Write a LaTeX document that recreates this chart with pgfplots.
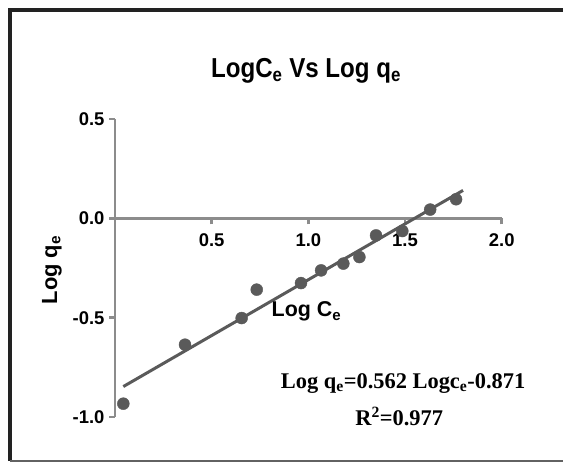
\documentclass[border=0pt]{standalone}
\usepackage{pgfplots}
\pgfplotsset{compat=1.18}
\usepackage{fontspec}
\setmainfont{Liberation Sans}
\newfontfamily\narrowfont[FakeStretch=0.88]{Liberation Sans}
\newfontfamily\serifeq{Liberation Serif}
\definecolor{axisgray}{HTML}{8C8C8C}
\definecolor{pointgray}{HTML}{5A5A5A}
\definecolor{framegray}{HTML}{222222}

% Freundlich isotherm: log Ce vs log qe
\pgfplotstableread{
x      y
0.043  -0.933
0.362  -0.636
0.655  -0.502
0.733  -0.359
0.962  -0.326
1.066  -0.262
1.181  -0.228
1.264  -0.195
1.350  -0.086
1.486  -0.064
1.630   0.044
1.764   0.096
}\isodata

\begin{document}
\begin{tikzpicture}[x=1bp,y=1bp]
\useasboundingbox (0,0) rectangle (563,462);
% outer frame
\draw[framegray, line width=3.5bp] (10,1) -- (10,452) -- (563,452);
\draw[axisgray!70!black, line width=1.5bp] (10,1) -- (563,1);

\begin{axis}[
  at={(115bp,45bp)}, anchor=south west,
  scale only axis, width=386.7bp, height=298bp,
  xmin=0, xmax=2, ymin=-1, ymax=0.5,
  axis lines=middle,
  axis line style={-, axisgray, line width=2.5bp},
  every tick/.style={axisgray, line width=2.5bp},
  tick align=outside, major tick length=6bp,
  hide obscured x ticks=false, hide obscured y ticks=false,
  xtick={0.5,1,1.5,2}, ytick={-1,-0.5,0,0.5},
  /pgf/number format/assume math mode=true,
  /pgf/number format/.cd, fixed, fixed zerofill, precision=1, /pgfplots/.cd,
  ticklabel style={font=\bfseries\fontsize{18.5}{18.5}\selectfont, black},
  xticklabel style={yshift=-6bp},
  yticklabel style={xshift=-1bp},
  clip=false,
]
\addplot[only marks, mark=*, mark size=6bp, pointgray, mark options={fill=pointgray, draw=pointgray}]
  table[x=x, y=y] {\isodata};
% fitted line: log qe = 0.562 log Ce - 0.871
\addplot[pointgray, line width=3bp] coordinates {(0.043,-0.8468) (1.800,0.1406)};

\node[font=\bfseries\fontsize{21.5}{21.5}\selectfont] at (axis cs:0.99,-0.47) {Log C\textsubscript{e}};
\node[font=\serifeq\bfseries\fontsize{22.5}{22.5}\selectfont, anchor=base] at (axis cs:1.49,-0.856) {Log q\textsubscript{e}=0.562 Logc\textsubscript{e}-0.871};
\node[font=\serifeq\bfseries\fontsize{22.5}{22.5}\selectfont, anchor=base] at (axis cs:1.47,-1.042) {R\textsuperscript{2}=0.977};
\end{axis}

% title and y label
\node[font=\narrowfont\bfseries\fontsize{27.5}{27.5}\selectfont, anchor=base] at (306,384) {LogC\textsubscript{e} Vs Log q\textsubscript{e}};
\node[font=\bfseries\fontsize{22}{22}\selectfont, rotate=90] at (52,192) {Log q\textsubscript{e}};
\end{tikzpicture}
\end{document}
